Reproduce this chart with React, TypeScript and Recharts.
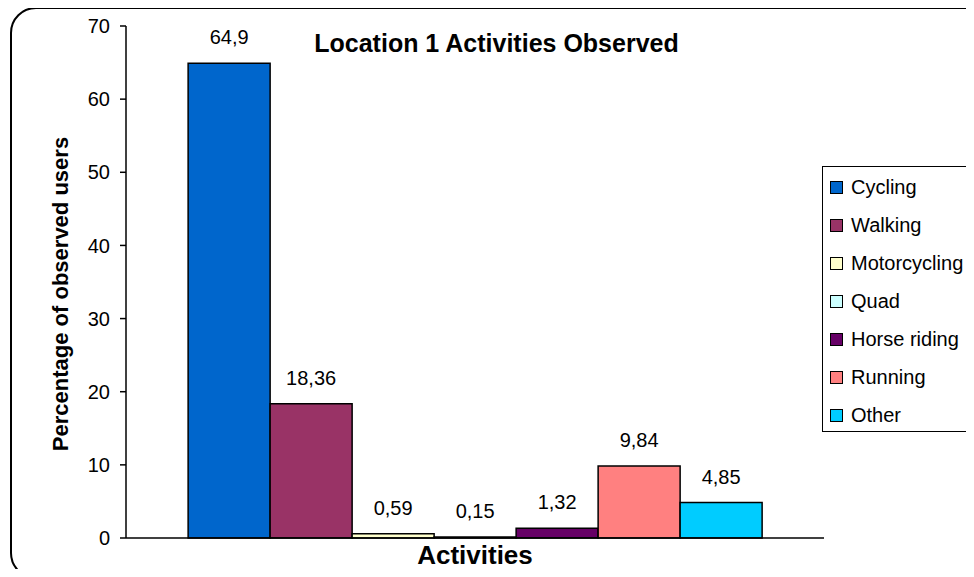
import { BarChart, Bar, XAxis, YAxis, Legend, LabelList } from 'recharts';

const activities = ['Cycling', 'Walking', 'Motorcycling', 'Quad', 'Horse riding', 'Running', 'Other'];
const shares = [64.9, 18.36, 0.59, 0.15, 1.32, 9.84, 4.85];
const colours = ['#0066CC', '#993366', '#FFFFCC', '#CCFFFF', '#660066', '#FF8080', '#00CCFF'];
const yTicks = [0, 10, 20, 30, 40, 50, 60, 70];

const row: Record<string, any> = { name: 'Location 1' };
activities.forEach((a, i) => {
  row[a] = shares[i];
});
const data = [row];

const font = '"Liberation Sans", Arial, sans-serif';

// comma decimals, like the original sheet
const fmt = (v: any) => String(v).replace('.', ',');

// legend keeps the series order (recharts would sort it by name)
function LegendBox() {
  return (
    <div
      style={{
        border: '1.5px solid #000',
        width: 170,
        height: 266,
        boxSizing: 'border-box',
        paddingTop: 1,
        background: '#fff',
      }}
    >
      {activities.map((a, i) => (
        <div key={a} style={{ display: 'flex', alignItems: 'center', height: 38 }}>
          <span
            style={{
              display: 'inline-block',
              width: 11,
              height: 11,
              border: '1.5px solid #000',
              background: colours[i],
              marginLeft: 7,
              marginRight: 8,
            }}
          />
          <span style={{ fontSize: 20, color: '#000', whiteSpace: 'nowrap' }}>{a}</span>
        </div>
      ))}
    </div>
  );
}

export default function App() {
  return (
    <div
      style={{
        position: 'relative',
        width: 974,
        height: 577,
        margin: -8,
        overflow: 'hidden',
        background: '#fff',
        fontFamily: font,
      }}
    >
      <div
        style={{
          position: 'absolute',
          left: 0,
          top: 31,
          width: 993,
          textAlign: 'center',
          fontSize: 25,
          lineHeight: '25px',
          fontWeight: 'bold',
          color: '#000',
        }}
      >
        Location 1 Activities Observed
      </div>
      <BarChart
        width={974}
        height={577}
        data={data}
        margin={{ top: 26, right: 150, bottom: 0, left: 0 }}
        barCategoryGap="8.9%"
        barGap={0}
        style={{ position: 'absolute', left: 0, top: 0, fontFamily: font }}
      >
        <XAxis
          dataKey="name"
          height={39}
          tick={false}
          tickLine={false}
          axisLine={{ stroke: '#000', strokeWidth: 1.5 }}
          label={{
            value: 'Activities',
            position: 'insideBottom',
            offset: 13,
            style: { fontSize: 26, fontWeight: 'bold', fill: '#000' },
          }}
        />
        <YAxis
          width={126}
          domain={[0, 70]}
          ticks={yTicks}
          interval={0}
          tickSize={6}
          tickMargin={10}
          axisLine={{ stroke: '#000', strokeWidth: 1.5 }}
          tickLine={{ stroke: '#000', strokeWidth: 1.5 }}
          tick={{ fill: '#000', fontSize: 20 }}
          label={{
            value: 'Percentage of observed users',
            angle: -90,
            position: 'insideLeft',
            offset: 60,
            dy: 12,
            style: { textAnchor: 'middle', fontSize: 22, fontWeight: 'bold', fill: '#000' },
          }}
        />
        <Legend
          layout="vertical"
          align="center"
          verticalAlign="middle"
          content={<LegendBox />}
          wrapperStyle={{ position: 'absolute', left: 822, top: 166, width: 170 }}
        />
        {activities.map((a, i) => (
          <Bar key={a} dataKey={a} name={a} fill={colours[i]} stroke="#000" strokeWidth={1.5} isAnimationActive={false}>
            <LabelList dataKey={a} position="top" offset={19} formatter={fmt} style={{ fill: '#000', fontSize: 20 }} />
          </Bar>
        ))}
      </BarChart>
      <div
        style={{
          position: 'absolute',
          left: 10,
          top: 7,
          width: 1000,
          height: 572,
          border: '2px solid #000',
          borderRadius: 26,
          boxSizing: 'border-box',
          pointerEvents: 'none',
          zIndex: 5,
        }}
      />
    </div>
  );
}
